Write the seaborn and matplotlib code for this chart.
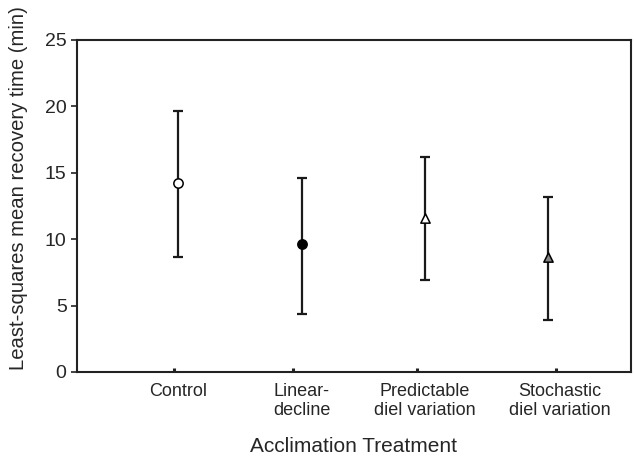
#最小二乘平均恢复时间 (与驯化处理对比)

import numpy as np
import pandas as pd
import seaborn as sns
import matplotlib
matplotlib.use('Agg')
import matplotlib.pyplot as plt
import matplotlib.transforms as mtransforms

sns.set_style('ticks')
plt.rcParams['font.family'] = ['Liberation Sans', 'DejaVu Sans']

treatments = ['Control', 'Linear-\ndecline', 'Predictable\ndiel variation', 'Stochastic\ndiel variation']
means = [14.25, 9.64, 11.60, 8.66]
upper = [19.65, 14.58, 16.19, 13.18]
lower = [8.68, 4.34, 6.93, 3.92]
tick_marks = [-0.03, -0.07, -0.065, 0.065]  # 横轴上小刻度点相对各处理的偏移
y_ticks = [0, 5, 10, 15, 20, 25]

df = pd.DataFrame({'treatment': treatments, 'mean': means, 'upper': upper, 'lower': lower})
df['pos'] = np.arange(len(df))

fig = plt.figure(figsize=(6.34, 4.58), dpi=100)
ax = fig.add_axes([0.1215, 0.1878, 0.8735, 0.7249])

# 误差线
ax.errorbar(df['pos'], df['mean'],
            yerr=[df['mean'] - df['lower'], df['upper'] - df['mean']],
            fmt='none', ecolor='#1a1a1a', elinewidth=1.6, capsize=3.5, capthick=1.6, zorder=2)

# 各处理的标记
markers = {'Control': 'o', 'Linear-\ndecline': 'o', 'Predictable\ndiel variation': '^', 'Stochastic\ndiel variation': '^'}
faces = {'Control': 'white', 'Linear-\ndecline': 'black', 'Predictable\ndiel variation': 'white', 'Stochastic\ndiel variation': '#858585'}
for t in treatments:
    sub = df[df['treatment'] == t]
    sns.scatterplot(data=sub, x='pos', y='mean', marker=markers[t], s=45,
                    color=faces[t], edgecolor='black', linewidth=1.1, ax=ax, zorder=3, legend=False)

ax.set_xlim(-0.82, 3.67)
ax.set_ylim(0, 25)
ax.set_yticks(y_ticks)
ax.set_xticks(df['pos'])
ax.set_xticks(df['pos'] + np.array(tick_marks), minor=True)
ax.set_xticklabels(treatments, fontsize=13, linespacing=1.15)
ax.tick_params(axis='y', labelsize=14, direction='out', length=4, width=1.2, color='#222222')
ax.tick_params(axis='x', which='major', length=0, pad=8)
ax.tick_params(axis='x', which='minor', direction='in', length=3, width=2.2, color='#222222')
for s in ax.spines.values():
    s.set_linewidth(1.5)
    s.set_color('#222222')

# 最后一个标签略向右
lab = ax.get_xticklabels()[-1]
lab.set_transform(lab.get_transform() + mtransforms.ScaledTranslation(0.12, 0, fig.dpi_scale_trans))

ax.set_xlabel('Acclimation Treatment', fontsize=15, labelpad=13)
ax.set_ylabel('Least-squares mean recovery time (min)', fontsize=14.6)
ax.yaxis.set_label_coords(-0.088, 0.555)

plt.savefig('out.png', dpi=100)
plt.close()
